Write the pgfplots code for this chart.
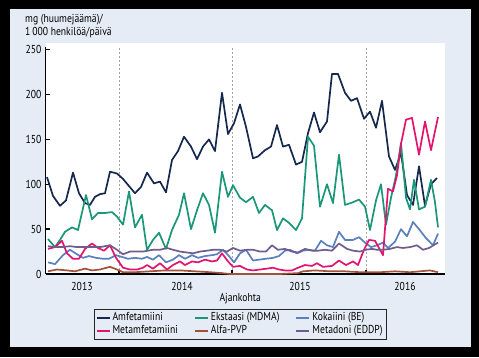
\documentclass[border=0pt]{standalone}
\usepackage{pgfplots}
\pgfplotsset{compat=1.18}
\usepackage{fontspec}
\setmainfont{PT Sans}[FakeStretch=0.84]
\definecolor{panel}{RGB}{229,236,245}
\definecolor{amf}{RGB}{22,40,78}
\definecolor{met}{RGB}{226,20,110}
\definecolor{eks}{RGB}{26,150,120}
\definecolor{pvp}{RGB}{160,82,60}
\definecolor{kok}{RGB}{90,128,190}
\definecolor{edd}{RGB}{112,92,142}
\begin{document}
\fontsize{11.5}{13}\selectfont
\begin{tikzpicture}[x=1pt,y=1pt]
\useasboundingbox (0,0) rectangle (479,357);
\fill[black] (0,0) rectangle (479,357);
\fill[panel] (9.5,10) rectangle (471,347.5);
\fill[white] (45.5,83) rectangle (445,314);
\node[anchor=north west, align=left, inner sep=0pt] at (25,343) {mg (huumejäämä)/\\1\,000 henkilöä/päivä};
\begin{axis}[
  at={(45.5pt,83pt)}, anchor=south west, scale only axis,
  width=399.5pt, height=227pt,
  xmin=45.5, xmax=445, ymin=0, ymax=253,
  axis x line*=bottom, axis y line*=left,
  axis line style={line width=1.3pt, black},
  xtick={119,232,366}, xticklabels={},
  xmajorgrids, grid style={dash pattern=on 2pt off 2pt, gray!70, line width=0.5pt},
  extra x ticks={82,182,300,405}, extra x tick labels={2013,2014,2015,2016},
  extra x tick style={major tick length=0pt, grid=none},
  xticklabel style={yshift=-4pt},
  xlabel style={yshift=5pt, xshift=-5pt},
  ytick={0,50,...,250},
  tick align=inside, major tick length=4pt,
  tick style={black, line width=1.3pt},
  /pgf/number format/assume math mode=true,
  xlabel={Ajankohta},
  legend columns=3,
  legend style={at={(0.487,-0.221)}, anchor=center, fill=panel, draw=black!85, line width=0.8pt,
    inner sep=1.5pt, row sep=-1pt,
    /tikz/every even column/.append style={column sep=14pt}},
  legend cell align=left,
  legend image code/.code={\draw[#1, line width=2pt] (0pt,0pt) -- (13pt,0pt);},
  clip=true,
]
\addplot[amf, line width=1.7pt, line join=round] table {
47 108
53 87
60 76
66 82
73 113
79 90
85 79
90 77
95 86
100 89
105 90
110 114
117 112
123 106
129 98
135 90
141 97
147 113
154 101
160 103
166 91
172 127
178 137
184 153
191 142
197 128
203 142
209 150
215 137
222 202
228 156
234 168
240 189
246 164
253 129
258 131
265 138
271 142
277 166
283 142
289 144
296 122
302 125
308 157
314 180
320 158
327 170
332 223
338 223
345 202
351 193
357 196
364 173
370 181
376 163
382 193
389 131
395 116
401 135
407 88
413 77
419 120
425 76
431 100
437 107
};
\addlegendentry{Amfetamiini}
\addplot[eks, line width=1.7pt, line join=round] table {
48 39
55 30
60 38
65 47
72 52
78 49
86 88
92 61
98 68
105 68
112 69
117 64
123 55
129 92
135 52
142 66
147 27
153 38
159 46
166 28
172 49
179 66
184 90
191 50
197 71
203 90
209 77
215 46
222 114
228 86
233 99
240 85
246 80
253 86
259 68
265 77
272 71
277 49
283 62
289 57
296 49
302 62
308 153
314 143
320 75
327 100
333 79
339 133
345 77
353 80
359 83
365 75
370 49
376 82
381 100
386 55
391 85
396 110
401 146
406 85
410 72
414 105
419 72
425 75
431 105
435 80
438 52
};
\addlegendentry{Ekstaasi (MDMA)}
\addplot[kok, line width=1.7pt, line join=round] table {
48 13
55 11
63 21
70 27
77 22
83 18
89 20
96 18
103 17
109 17
116 21
122 19
128 17
135 18
142 17
147 19
153 16
159 21
166 13
173 16
179 21
185 17
192 21
198 18
205 20
212 21
217 22
223 27
229 20
234 13
240 23
246 27
253 15
259 16
266 17
273 18
279 20
285 26
290 27
297 23
303 26
308 27
315 26
321 37
327 32
333 30
339 47
345 38
353 38
359 41
365 35
371 30
377 32
383 35
388 29
395 36
401 50
407 42
413 58
419 50
426 40
433 32
438 45
};
\addlegendentry{Kokaiini (BE)}
\addplot[met, line width=1.7pt, line join=round] table {
48 28
55 30
62 37
67 23
73 17
79 17
85 28
92 34
98 29
104 26
110 32
116 18
123 7
130 5
137 5
143 7
147 10
153 6
160 12
167 5
173 10
180 14
185 10
192 14
198 13
205 16
212 14
217 15
222 23
228 14
233 8
240 9
247 5
253 4
260 5
267 6
273 7
279 5
285 4
292 4
298 7
305 10
312 9
317 12
323 8
332 9
339 15
346 10
353 14
358 10
364 27
369 38
375 37
383 21
388 95
393 92
397 110
401 145
406 172
412 174
419 133
425 170
431 138
438 175
};
\addlegendentry{Metamfetamiini}
\addplot[pvp, line width=1.7pt, line join=round] table {
48 3
57 5
67 4
75 3
85 6
92 4
100 5
110 8
117 5
123 2
135 2
150 3
165 4
180 4
195 3
210 2
222 1
230 0
245 0
260 0
280 0
298 1
303 3
315 4
330 3
345 3
360 2
370 2
380 2
395 3
410 2
420 3
430 4
438 2
};
\addlegendentry{Alfa-PVP}
\addplot[edd, line width=1.7pt, line join=round] table {
48 31
55 30
62 30
70 31
77 30
85 30
92 30
100 30
110 32
117 27
123 22
130 25
137 25
143 25
153 27
160 27
167 29
173 27
180 25
187 24
193 23
200 25
207 26
213 27
220 27
227 25
233 29
240 26
247 27
253 27
260 25
266 25
272 32
278 27
285 28
292 25
298 24
305 28
312 26
318 26
325 27
332 26
339 34
347 28
353 26
360 25
366 27
372 28
377 27
383 27
390 28
397 30
403 29
410 30
417 32
423 27
429 29
435 33
438 35
};
\addlegendentry{Metadoni (EDDP)}
\end{axis}
\end{tikzpicture}
\end{document}
